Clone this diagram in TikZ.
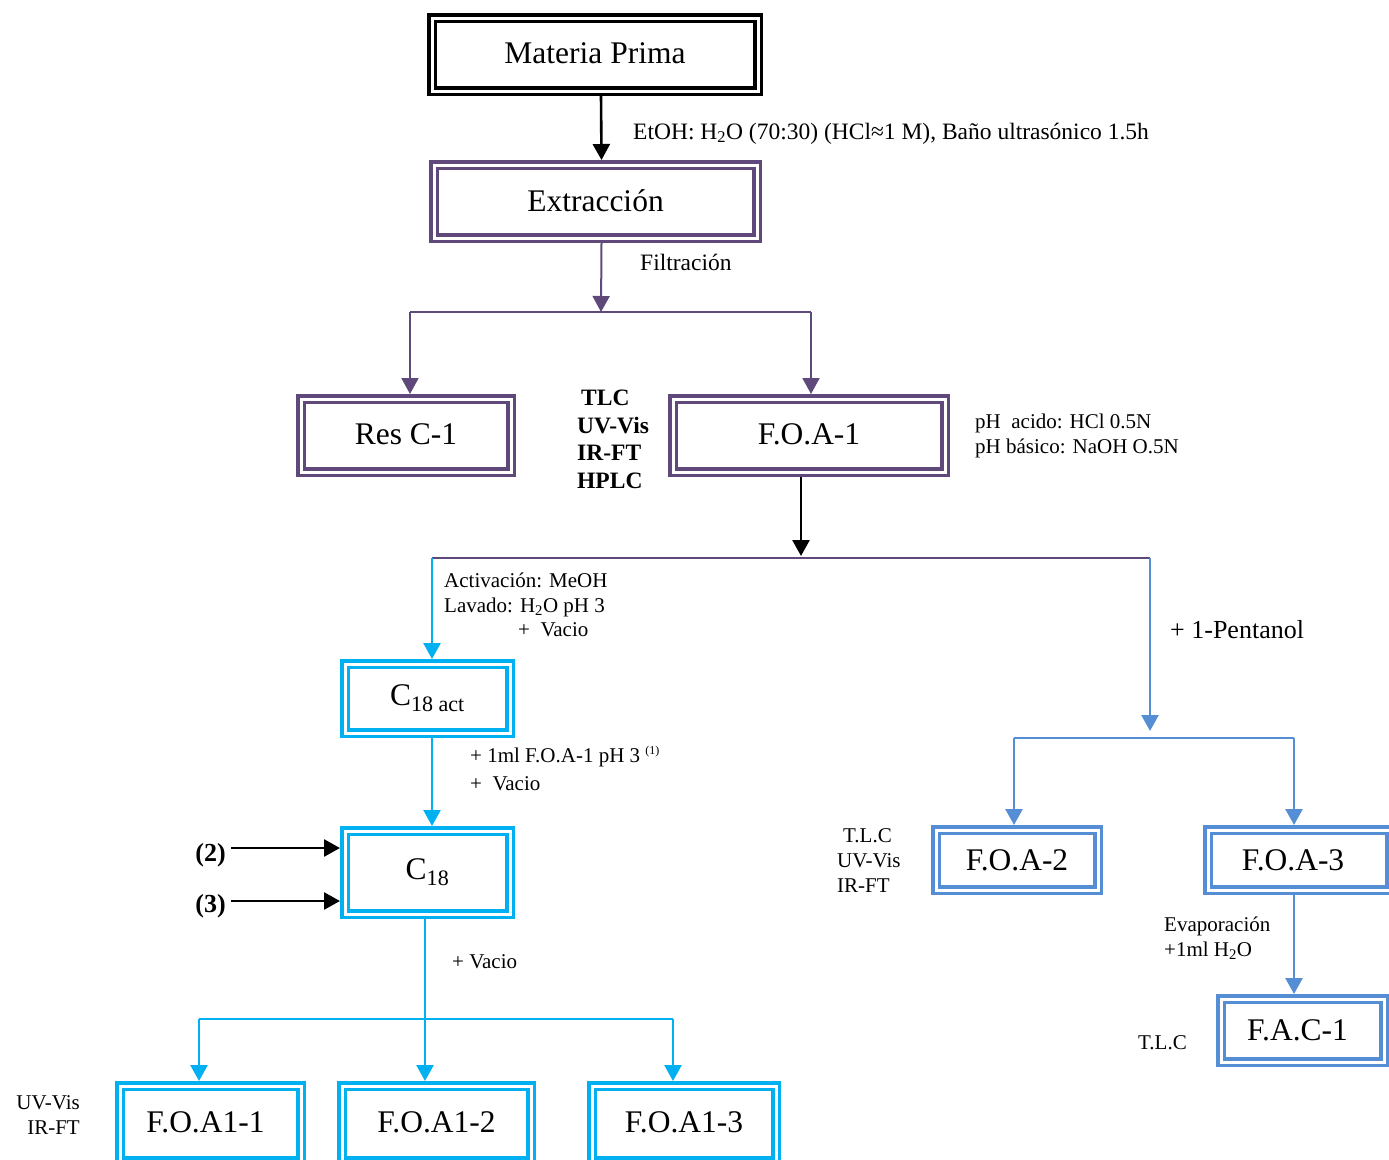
\documentclass[tikz,border=0pt]{standalone}
\usepackage{fontspec}
\setmainfont{Liberation Serif}
\usetikzlibrary{arrows.meta}
\definecolor{pur}{HTML}{5F497A}
\definecolor{cya}{HTML}{00B0F0}
\definecolor{blu}{HTML}{558ED5}
\newcommand\fbig{\fontsize{31.5}{36}\selectfont}
\newcommand\fmid{\fontsize{23.5}{28}\selectfont}
\newcommand\fsml{\fontsize{21}{25}\selectfont}
\newcommand\fpen{\fontsize{26}{30}\selectfont}
\tikzset{
  box/.style={double=white, line width=3.5pt, double distance=3pt, inner sep=0pt, outer sep=5pt, font=\fbig},
  tip/.style={-{Triangle[length=16pt,width=17pt]}},
  conblack/.style={tip, draw=black, line width=2.6pt},
  conpur/.style={tip, draw=pur, line width=2pt},
  concya/.style={tip, draw=cya, line width=2.6pt},
  conblu/.style={tip, draw=blu, line width=2.6pt},
  linepur/.style={draw=pur, line width=2pt},
  linecya/.style={draw=cya, line width=2.6pt},
  lineblu/.style={draw=blu, line width=2.6pt},
  lab/.style={inner sep=0pt, anchor=base west, font=\fsml},
  labm/.style={inner sep=0pt, anchor=base west, font=\fmid},
  labb/.style={inner sep=0pt, anchor=base west, font=\fmid\bfseries},
}
\begin{document}
\begin{tikzpicture}[x=1pt,y=-1pt]
\useasboundingbox (0,0) rectangle (1389,1159);
\clip (0,0) rectangle (1389,1159);
% boxes
\node[box, draw=black, minimum width=326pt, minimum height=73pt] (mat) at (595,54.5) {\raisebox{2pt}{Materia Prima}};
\node[box, draw=pur, minimum width=323pt, minimum height=73pt] (ext) at (595.5,201.5) {\raisebox{2pt}{Extracción}};
\node[box, draw=pur, minimum width=210pt, minimum height=73pt] (res) at (406,435.5) {\raisebox{2pt}{Res C-1}};
\node[box, draw=pur, minimum width=272pt, minimum height=73pt] (foa1) at (809,435.5) {\raisebox{2pt}{F.O.A-1}};
\node[box, draw=cya, minimum width=165pt, minimum height=69pt] (c18act) at (427.5,698.5) {C\textsubscript{18 act}};
\node[box, draw=cya, minimum width=165pt, minimum height=83pt] (c18) at (427.5,872.5) {C\textsubscript{18}};
\node[box, draw=cya, minimum width=181pt, minimum height=75pt] (a11) at (210.5,1123.5) {\hspace*{-10pt}\raisebox{2pt}{F.O.A1-1}};
\node[box, draw=cya, minimum width=189pt, minimum height=75pt] (a12) at (436.5,1123.5) {\raisebox{2pt}{F.O.A1-2}};
\node[box, draw=cya, minimum width=184pt, minimum height=75pt] (a13) at (684,1123.5) {\raisebox{2pt}{F.O.A1-3}};
\node[box, draw=blu, minimum width=162pt, minimum height=60pt] (foa2) at (1017,860) {F.O.A-2};
\node[box, draw=blu, minimum width=182pt, minimum height=60pt] (foa3) at (1299,860) {\hspace*{-12pt}F.O.A-3};
\node[box, draw=blu, minimum width=163pt, minimum height=63pt] (fac1) at (1302.5,1030.5) {\hspace*{-10pt}F.A.C-1};
% connectors
\draw[conblack] ([xshift=6pt]mat.south) -- ([xshift=6pt]ext.north);
\coordinate (s1) at (601,312);
\coordinate (l1) at (410,312);
\coordinate (r1) at (811,312);
\draw[conpur] ([xshift=6pt]ext.south) -- (s1);
\draw[linepur] (l1) -- (r1);
\draw[conpur] (l1) -- (l1 |- res.north);
\draw[conpur] (r1) -- (r1 |- foa1.north);
\coordinate (s2) at (801,556);
\draw[conblack] (s2 |- foa1.south) -- (s2);
\coordinate (l2) at (432,558);
\coordinate (r2) at (1150,558);
\coordinate (r2b) at (1150,731);
\draw[linepur] (l2) -- (r2);
\draw[concya] (l2) -- (l2 |- c18act.north);
\draw[conblu] (r2) -- (r2b);
\coordinate (l3) at (1014,738);
\coordinate (r3) at (1294,738);
\draw[lineblu] (l3) -- (r3);
\draw[conblu] (l3) -- (l3 |- foa2.north);
\draw[conblu] (r3) -- (r3 |- foa3.north);
\draw[conblu] (r3 |- foa3.south) -- (r3 |- fac1.north);
\draw[concya] (l2 |- c18act.south) -- (l2 |- c18.north);
\coordinate (m4) at (425,1019);
\coordinate (l4) at (199,1019);
\coordinate (r4) at (673,1019);
\draw[concya] (m4 |- c18.south) -- (m4 |- a12.north);
\draw[linecya] (l4) -- (r4);
\draw[concya] (l4) -- (l4 |- a11.north);
\draw[concya] (r4) -- (r4 |- a13.north);
% side inputs (2) (3)
\node[inner sep=0pt, anchor=base east, font=\fpen\bfseries] (n2) at (226,861) {(2)};
\node[inner sep=0pt, anchor=base east, font=\fpen\bfseries] (n3) at (226,912) {(3)};
\coordinate (y2) at (231,848);
\coordinate (y3) at (231,901);
\draw[conblack] (y2) -- (y2 -| c18.west);
\draw[conblack] (y3) -- (y3 -| c18.west);
% labels
\node[labm] (t1) at (633,139) {EtOH: H\textsubscript{2}O (70:30) (HCl≈1 M), Baño ultrasónico 1.5h};
\node[labm] (t2) at (640,270) {Filtración};
\node[labb] (t3) at (581,405) {TLC};
\node[labb] (t4) at (577,433) {UV-Vis};
\node[labb] (t5) at (577,460) {IR-FT};
\node[labb] (t6) at (577,488) {HPLC};
\node[lab] (t7) at (975,428) {pH\ \ acido: HCl 0.5N};
\node[lab] (t8) at (975,453) {pH básico: NaOH O.5N};
\node[lab] (t9) at (444,587) {Activación: MeOH};
\node[lab] (t10) at (444,612) {Lavado: H\textsubscript{2}O pH 3};
\node[lab] (t11) at (518,636) {+\hspace{0.5em}Vacio};
\node[inner sep=0pt, anchor=base west, font=\fpen] (t12) at (1170,638) {+ 1-Pentanol};
\node[lab] (t13) at (470,762) {+ 1ml F.O.A-1 pH 3 \textsuperscript{\fontsize{12}{12}\selectfont(1)}};
\node[lab] (t14) at (470,790) {+\hspace{0.5em}Vacio};
\node[lab] (t15) at (452,968) {+ Vacio};
\node[lab, anchor=base east] (t16) at (80,1109) {UV-Vis};
\node[lab, anchor=base east] (t17) at (80,1134) {IR-FT};
\node[lab] (t18) at (843,842) {T.L.C};
\node[lab] (t19) at (837,867) {UV-Vis};
\node[lab] (t20) at (837,892) {IR-FT};
\node[lab] (t21) at (1164,931) {Evaporación};
\node[lab] (t22) at (1164,956) {+1ml H\textsubscript{2}O};
\node[lab] (t23) at (1138,1049) {T.L.C};
\end{tikzpicture}
\end{document}
